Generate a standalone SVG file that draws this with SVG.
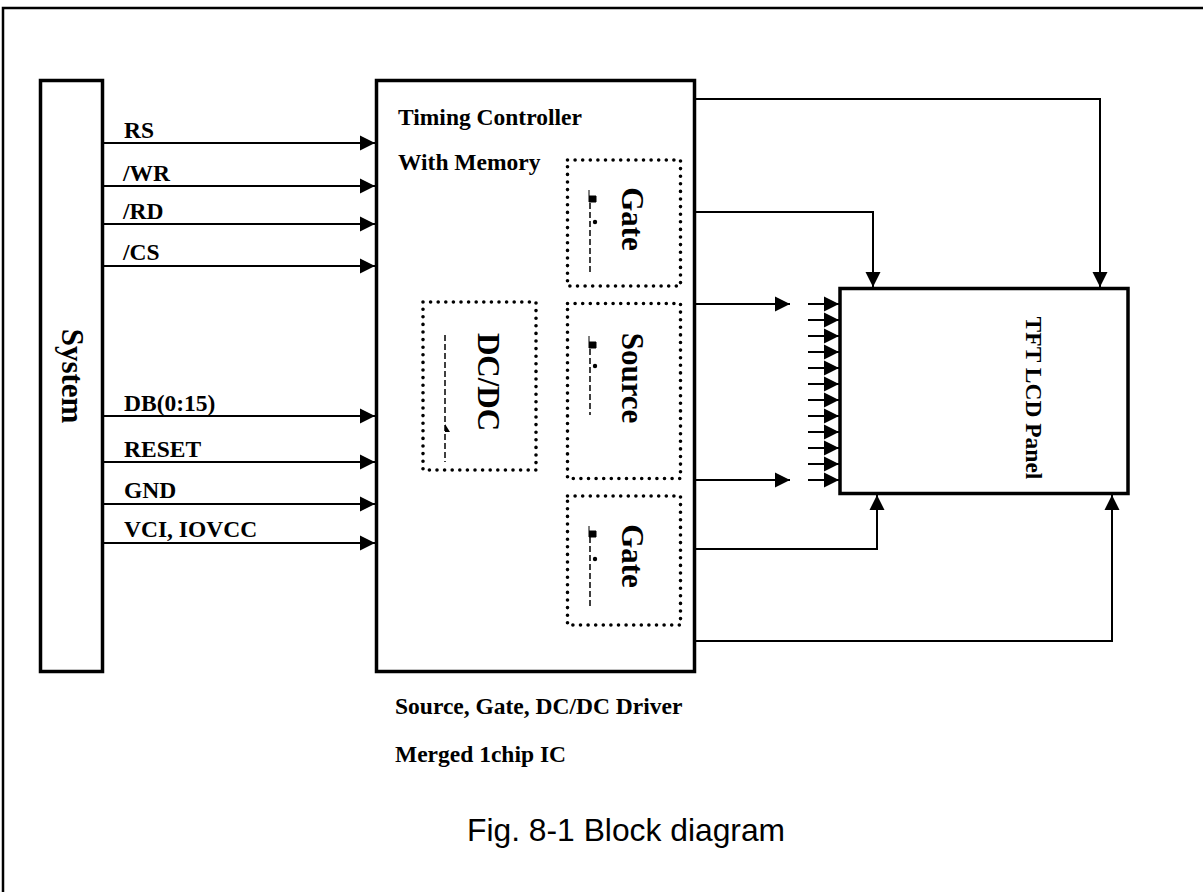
<svg xmlns="http://www.w3.org/2000/svg" width="1203" height="892" viewBox="0 0 1203 892">
<defs>
<marker id="ah" markerUnits="userSpaceOnUse" markerWidth="16" markerHeight="16" viewBox="0 0 16 16" refX="15" refY="8" orient="auto">
<path d="M0,0.5 L15,8 L0,15.5 Z" fill="#000"/>
</marker>
<style>
.box{fill:#fff;stroke:#000;stroke-width:3.5}
.dot{fill:none;stroke:#000;stroke-width:3.6;stroke-linecap:round;stroke-dasharray:0 7.6}
.ln{fill:none;stroke:#000;stroke-width:2}
.lbl{font-family:"Liberation Serif","Times New Roman",serif;font-weight:bold;font-size:23.5px;fill:#000}
.big{font-family:"Liberation Serif","Times New Roman",serif;font-weight:bold;font-size:31px;fill:#000}
.cap{font-family:"Liberation Sans",Arial,sans-serif;font-size:31.8px;fill:#000}
.mk{fill:none;stroke:#000;stroke-width:1.5;stroke-dasharray:6 3}
</style>
</defs>
<rect width="1203" height="892" fill="#fff"/>
<path d="M3,892 V8 H1203" fill="none" stroke="#000" stroke-width="2.5"/>

<g id="system">
<rect class="box" x="40.5" y="80.5" width="62" height="591"/>
<text class="big" transform="translate(62,376) rotate(90)" text-anchor="middle" font-size="32">System</text>
</g>

<g id="controller">
<rect class="box" x="376.5" y="80.5" width="318" height="591"/>
<text class="lbl" x="398" y="125">Timing Controller</text>
<text class="lbl" x="398" y="170">With Memory</text>
</g>

<g id="gate-top">
<rect class="dot" x="567.5" y="160" width="113" height="126"/>
<text class="big" transform="translate(622,219) rotate(90)" text-anchor="middle">Gate</text>
<line class="mk" x1="590" y1="203" x2="590" y2="272"/>
<path d="M589,196 H596 V202 H589 Z M589,190 V196" fill="#000" stroke="#000" stroke-width="1"/>
<circle cx="595" cy="222" r="2.2"/>
</g>

<g id="source">
<rect class="dot" x="567.5" y="303.5" width="113" height="175"/>
<text class="big" transform="translate(622,378) rotate(90)" text-anchor="middle">Source</text>
<line class="mk" x1="590" y1="349" x2="590" y2="415"/>
<path d="M589,342 H596 V348 H589 Z M589,336 V342" fill="#000" stroke="#000" stroke-width="1"/>
<circle cx="595" cy="366" r="2.2"/>
</g>

<g id="gate-bottom">
<rect class="dot" x="567.5" y="496" width="113" height="129"/>
<text class="big" transform="translate(622,556) rotate(90)" text-anchor="middle">Gate</text>
<line class="mk" x1="590" y1="537" x2="590" y2="607"/>
<path d="M589,531 H596 V537 H589 Z M589,526 V531" fill="#000" stroke="#000" stroke-width="1"/>
<circle cx="595" cy="559" r="2.2"/>
</g>

<g id="dcdc">
<rect class="dot" x="423" y="302" width="113" height="168"/>
<text class="big" transform="translate(478,382) rotate(90)" text-anchor="middle" font-size="32">DC/DC</text>
<line class="mk" x1="445" y1="335" x2="445" y2="462" stroke-dasharray="10 4"/>
<path d="M445,424 L450,432 L445,432 Z" fill="#000"/>
</g>

<g id="panel">
<rect class="box" x="840" y="288.5" width="288" height="205"/>
<text class="lbl" transform="translate(1026,398) rotate(90)" text-anchor="middle" font-size="24.5">TFT LCD Panel</text>
</g>

<g id="connectors">
<g class="ln" marker-end="url(#ah)">
<line x1="101" y1="143" x2="375" y2="143"/>
<line x1="102" y1="186" x2="375" y2="186"/>
<line x1="102" y1="224" x2="375" y2="224"/>
<line x1="102" y1="266" x2="375" y2="266"/>
<line x1="102" y1="416" x2="375" y2="416"/>
<line x1="101" y1="462" x2="375" y2="462"/>
<line x1="102" y1="504" x2="375" y2="504"/>
<line x1="102" y1="543" x2="375" y2="543"/>
<path d="M695,99 H1100 V287"/>
<path d="M695,212 H873 V287"/>
<path d="M695,549 H877 V495"/>
<path d="M695,641 H1112 V495"/>
<line x1="695" y1="304" x2="790" y2="304"/>
<line x1="695" y1="480" x2="790" y2="480"/>
<line x1="808" y1="304" x2="839" y2="304"/>
<line x1="808" y1="320" x2="839" y2="320"/>
<line x1="808" y1="336" x2="839" y2="336"/>
<line x1="808" y1="352" x2="839" y2="352"/>
<line x1="808" y1="368" x2="839" y2="368"/>
<line x1="808" y1="384" x2="839" y2="384"/>
<line x1="808" y1="400" x2="839" y2="400"/>
<line x1="808" y1="416" x2="839" y2="416"/>
<line x1="808" y1="432" x2="839" y2="432"/>
<line x1="808" y1="448" x2="839" y2="448"/>
<line x1="808" y1="464" x2="839" y2="464"/>
<line x1="808" y1="480" x2="839" y2="480"/>
</g>
</g>

<g id="labels">
<text class="lbl" x="124" y="138">RS</text>
<text class="lbl" x="123" y="181">/WR</text>
<text class="lbl" x="123" y="219">/RD</text>
<text class="lbl" x="123" y="260">/CS</text>
<text class="lbl" x="124" y="411">DB(0:15)</text>
<text class="lbl" x="124" y="457">RESET</text>
<text class="lbl" x="124" y="498">GND</text>
<text class="lbl" x="124" y="537">VCI, IOVCC</text>
<text class="lbl" x="395" y="714">Source, Gate, DC/DC Driver</text>
<text class="lbl" x="395" y="762">Merged 1chip IC</text>
<text class="cap" x="467" y="841">Fig. 8-1 Block diagram</text>
</g>
</svg>
